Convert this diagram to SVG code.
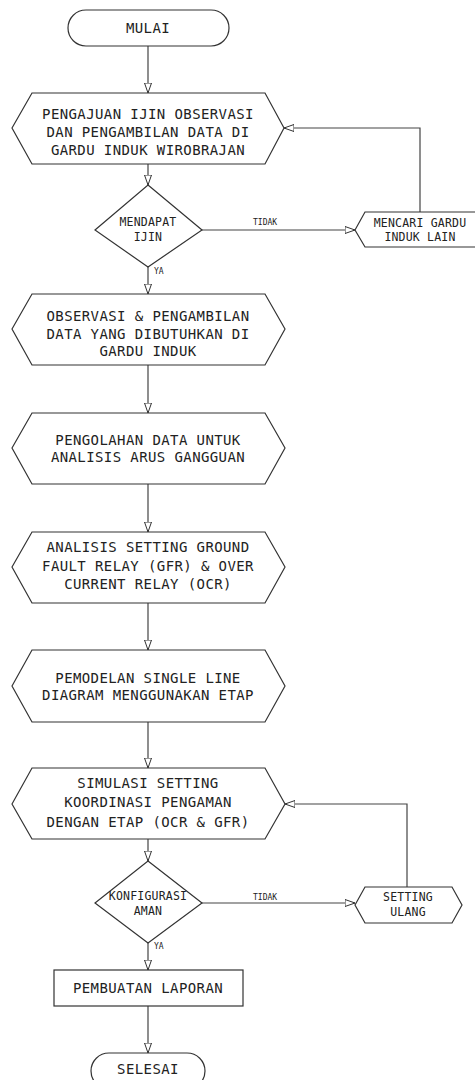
<svg xmlns="http://www.w3.org/2000/svg" width="475" height="1080" viewBox="0 0 475 1080">
<style>
.s{fill:#fff;stroke:#333;stroke-width:1.2}
.c{fill:none;stroke:#444;stroke-width:1.2}
.t{font-family:"DejaVu Sans Mono","Liberation Mono",monospace;font-size:14px;fill:#222;text-anchor:middle;dominant-baseline:central;letter-spacing:0.4px}
.m{font-size:11.5px;letter-spacing:0.2px}
.l{font-family:"DejaVu Sans Mono","Liberation Mono",monospace;font-size:8px;fill:#222;dominant-baseline:central}
</style>
<defs>
<marker id="a" viewBox="0 0 10 8" refX="10" refY="4" markerWidth="10" markerHeight="8" markerUnits="userSpaceOnUse" orient="auto">
<path d="M0,0.5 L10,4 L0,7.5 Z" fill="#fff" stroke="#333" stroke-width="1"/>
</marker>
</defs>
<g id="connectors">
<path class="c" d="M148,46 V93" marker-end="url(#a)"/>
<path class="c" d="M148,164 V185" marker-end="url(#a)"/>
<path class="c" d="M202,230 H355" marker-end="url(#a)"/>
<path class="c" d="M420,212 V128 H284" marker-end="url(#a)"/>
<path class="c" d="M148,267 V294" marker-end="url(#a)"/>
<path class="c" d="M148,365 V413" marker-end="url(#a)"/>
<path class="c" d="M148,484 V532" marker-end="url(#a)"/>
<path class="c" d="M148,603 V650" marker-end="url(#a)"/>
<path class="c" d="M148,722 V768" marker-end="url(#a)"/>
<path class="c" d="M148,839 V861" marker-end="url(#a)"/>
<path class="c" d="M202,903 H355" marker-end="url(#a)"/>
<path class="c" d="M407,887 V804 H285" marker-end="url(#a)"/>
<path class="c" d="M148,943 V970" marker-end="url(#a)"/>
<path class="c" d="M148,1006 V1053" marker-end="url(#a)"/>
<text class="l" x="253" y="222">TIDAK</text>
<text class="l" x="154" y="271">YA</text>
<text class="l" x="253" y="897">TIDAK</text>
<text class="l" x="154" y="946">YA</text>
</g>
<g id="mulai">
<rect class="s" x="68" y="10" width="161" height="36" rx="18"/>
<text class="t" x="148" y="28">MULAI</text>
</g>
<g id="pengajuan">
<polygon class="s" points="12,128 32,93 265,93 284,128 265,164 32,164"/>
<text class="t" x="148" y="114">PENGAJUAN IJIN OBSERVASI</text>
<text class="t" x="148" y="132">DAN PENGAMBILAN DATA DI</text>
<text class="t" x="148" y="150">GARDU INDUK WIROBRAJAN</text>
</g>
<g id="mendapat">
<polygon class="s" points="148,185 202,230 148,267 95,230"/>
<text class="t m" x="148" y="222">MENDAPAT</text>
<text class="t m" x="148" y="237">IJIN</text>
</g>
<g id="mencari">
<polygon class="s" points="355,230 365,212 477,212 487,230 477,247 365,247"/>
<text class="t m" x="420" y="223">MENCARI GARDU</text>
<text class="t m" x="420" y="237">INDUK LAIN</text>
</g>
<g id="observasi">
<polygon class="s" points="12,329 32,294 265,294 285,329 265,365 32,365"/>
<text class="t" x="148" y="316">OBSERVASI &amp; PENGAMBILAN</text>
<text class="t" x="148" y="334">DATA YANG DIBUTUHKAN DI</text>
<text class="t" x="148" y="351">GARDU INDUK</text>
</g>
<g id="pengolahan">
<polygon class="s" points="12,448 32,413 265,413 285,448 265,484 32,484"/>
<text class="t" x="148" y="440">PENGOLAHAN DATA UNTUK</text>
<text class="t" x="148" y="457">ANALISIS ARUS GANGGUAN</text>
</g>
<g id="analisis">
<polygon class="s" points="12,567 32,532 265,532 285,567 265,603 32,603"/>
<text class="t" x="148" y="547">ANALISIS SETTING GROUND</text>
<text class="t" x="148" y="566">FAULT RELAY (GFR) &amp; OVER</text>
<text class="t" x="148" y="584">CURRENT RELAY (OCR)</text>
</g>
<g id="pemodelan">
<polygon class="s" points="12,686 32,650 265,650 285,686 265,722 32,722"/>
<text class="t" x="148" y="678">PEMODELAN SINGLE LINE</text>
<text class="t" x="148" y="695">DIAGRAM MENGGUNAKAN ETAP</text>
</g>
<g id="simulasi">
<polygon class="s" points="12,804 32,768 265,768 285,804 265,839 32,839"/>
<text class="t" x="148" y="783">SIMULASI SETTING</text>
<text class="t" x="148" y="802">KOORDINASI PENGAMAN</text>
<text class="t" x="148" y="822">DENGAN ETAP (OCR &amp; GFR)</text>
</g>
<g id="konfigurasi">
<polygon class="s" points="148,861 202,903 148,943 95,903"/>
<text class="t m" x="148" y="896">KONFIGURASI</text>
<text class="t m" x="148" y="911">AMAN</text>
</g>
<g id="setting-ulang">
<polygon class="s" points="355,905 365,887 452,887 462,905 452,923 365,923"/>
<text class="t m" x="408" y="897">SETTING</text>
<text class="t m" x="408" y="912">ULANG</text>
</g>
<g id="laporan">
<rect class="s" x="54" y="970" width="189" height="36"/>
<text class="t" x="148" y="988">PEMBUATAN LAPORAN</text>
</g>
<g id="selesai">
<rect class="s" x="91" y="1053" width="114" height="36" rx="18"/>
<text class="t" x="148" y="1069">SELESAI</text>
</g>
</svg>
